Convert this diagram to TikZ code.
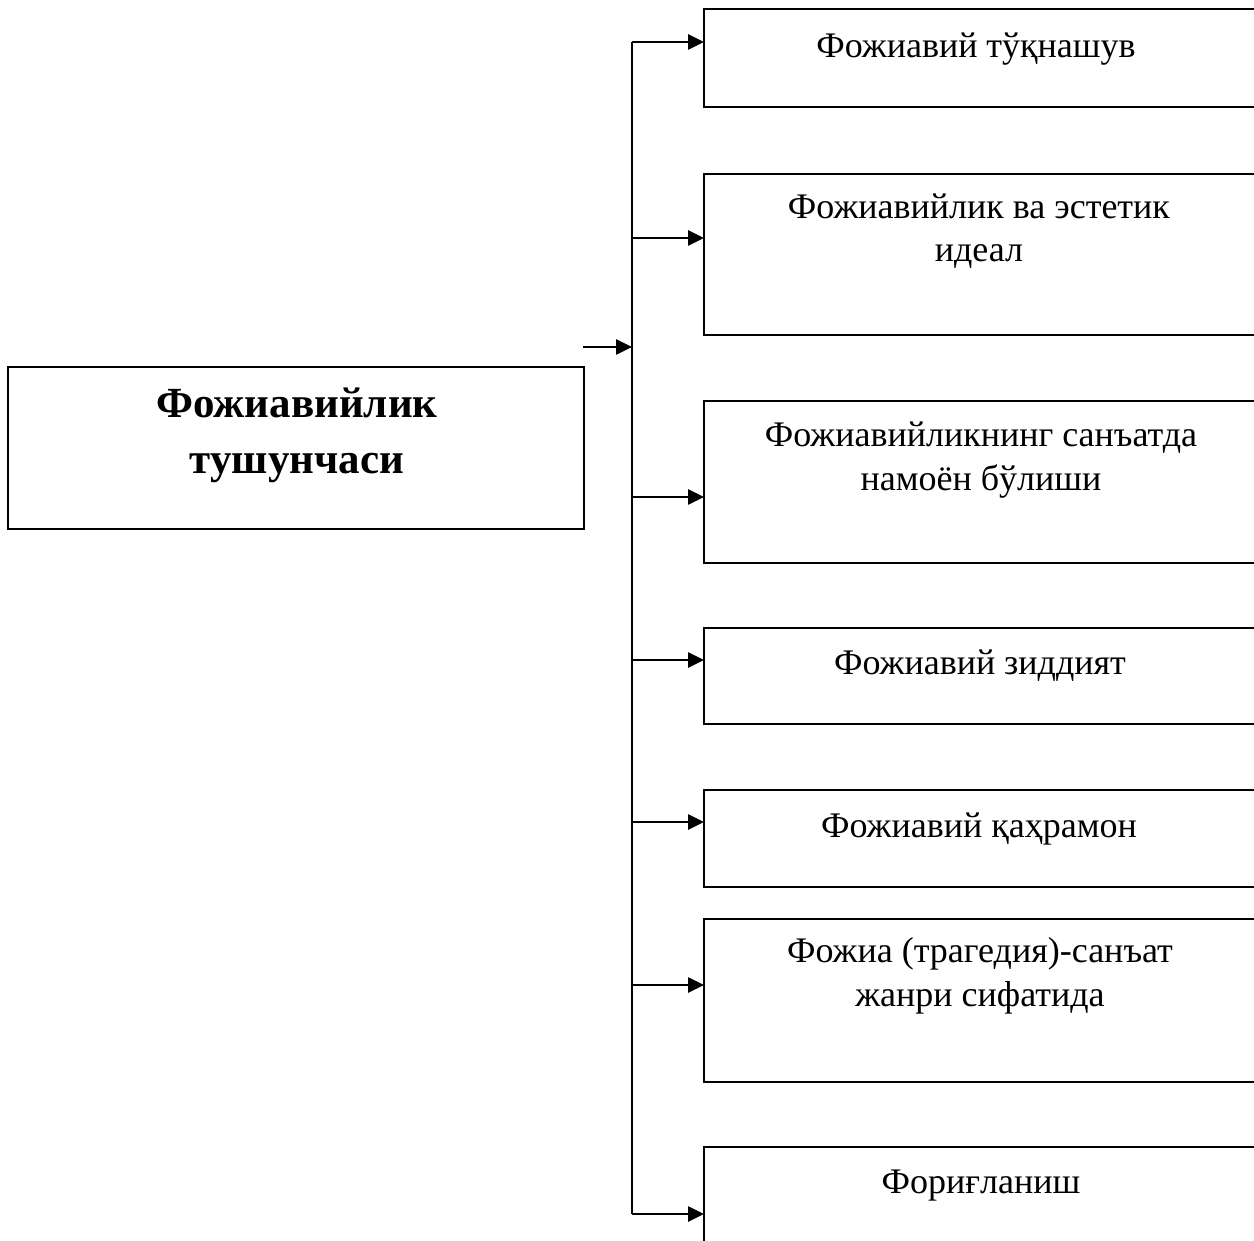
\documentclass[tikz,border=0pt]{standalone}
\usepackage{fontspec}
\setmainfont{Liberation Serif}
\usetikzlibrary{arrows.meta}
\begin{document}
\begin{tikzpicture}[x=1pt,y=-1pt,
  box/.style={draw,line width=2.2pt,inner sep=0pt,outer sep=0pt,anchor=north west},
  rbox/.style={box,minimum width=570pt},
  lbl/.style={font=\fontsize{36}{43.5}\selectfont,anchor=base,inner sep=0pt,align=center},
  ttl/.style={font=\fontsize{43}{56}\selectfont\bfseries,anchor=base,inner sep=0pt,align=center},
  arr/.style={line width=2.6pt,-{Triangle[length=16pt,width=15pt]}}]
\useasboundingbox (0,0) rectangle (1254,1241);
\clip (0,0) rectangle (1254,1241);
% left box
\node[box,minimum width=576pt,minimum height=162pt] (L) at (8,367) {};
\node[ttl] (Lt) at (297,473) {Фожиавийлик\\тушунчаси};
% right boxes
\node[rbox,minimum height=98pt]  (b1) at (704,9) {};
\node[rbox,minimum height=161pt] (b2) at (704,174) {};
\node[rbox,minimum height=162pt] (b3) at (704,401) {};
\node[rbox,minimum height=96pt]  (b4) at (704,628) {};
\node[rbox,minimum height=97pt]  (b5) at (704,790) {};
\node[rbox,minimum height=163pt] (b6) at (704,919) {};
\node[rbox,minimum height=150pt] (b7) at (704,1147) {};
% texts
\node[lbl] (t1) at (976,58) {Фожиавий тўқнашув};
\node[lbl] (t2) at (979,262) {Фожиавийлик ва эстетик\\идеал};
\node[lbl] (t3) at (981,490) {Фожиавийликнинг санъатда\\намоён бўлиши};
\node[lbl] (t4) at (980,674) {Фожиавий зиддият};
\node[lbl] (t5) at (979,837) {Фожиавий қаҳрамон};
\node[lbl] (t6) at (980,1006) {Фожиа (трагедия)-санъат\\жанри сифатида};
\node[lbl] (t7) at (981,1193) {Фориғланиш};
% trunk
\coordinate (in) at (583,347);
\coordinate (j) at (632,347);
\coordinate (c1) at (632,42);
\coordinate (c2) at (632,238);
\coordinate (c3) at (632,497);
\coordinate (c4) at (632,660);
\coordinate (c5) at (632,822);
\coordinate (c6) at (632,985);
\coordinate (c7) at (632,1214);
\draw[arr] (in) -- (j);
\draw[line width=2.6pt] (c1) -- (c7);
\draw[arr] (c1) -- (c1 -| b1.west);
\draw[arr] (c2) -- (c2 -| b2.west);
\draw[arr] (c3) -- (c3 -| b3.west);
\draw[arr] (c4) -- (c4 -| b4.west);
\draw[arr] (c5) -- (c5 -| b5.west);
\draw[arr] (c6) -- (c6 -| b6.west);
\draw[arr] (c7) -- (c7 -| b7.west);
\end{tikzpicture}
\end{document}
